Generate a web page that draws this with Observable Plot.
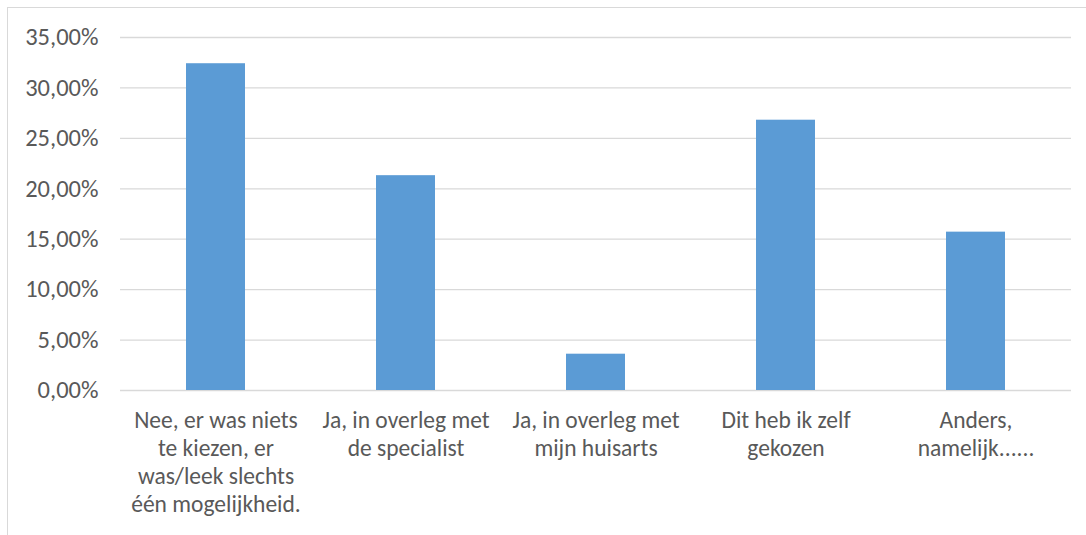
<!DOCTYPE html>
<html>
<head>
<meta charset="utf-8">
<script src="https://cdn.jsdelivr.net/npm/d3@7"></script>
<script src="https://cdn.jsdelivr.net/npm/@observablehq/plot@0.6"></script>
<style>
  html, body { margin: 0; padding: 0; background: #fff; }
  #wrap { position: relative; width: 1086px; height: 535px; overflow: hidden; }
  #frame { position: absolute; left: 7px; top: 7px; right: -10px; bottom: -10px;
           border-top: 1.5px solid #d9d9d9; border-left: 1.5px solid #d9d9d9; }
  #chart { position: absolute; left: 0; top: 0; }
</style>
</head>
<body>
<div id="wrap"><div id="frame"></div><div id="chart"></div></div>
<script>
// Answer options and their share of respondents (percent)
const categories = [
  "Nee, er was niets te kiezen, er was/leek slechts één mogelijkheid.",
  "Ja, in overleg met de specialist",
  "Ja, in overleg met mijn huisarts",
  "Dit heb ik zelf gekozen",
  "Anders, namelijk......"
];
const shares = [32.4, 21.3, 3.6, 26.8, 15.7];

// Wrapped axis labels, one entry per category
const tickLines = [
  "Nee, er was niets\nte kiezen, er\nwas/leek slechts\néén mogelijkheid.",
  "Ja, in overleg met\nde specialist",
  "Ja, in overleg met\nmijn huisarts",
  "Dit heb ik zelf\ngekozen",
  "Anders,\nnamelijk......"
];
const yTicks = [0, 5, 10, 15, 20, 25, 30, 35];

const data = categories.map((c, i) => ({category: c, share: shares[i]}));
const labelOf = new Map(categories.map((c, i) => [c, tickLines[i]]));
const pct = d => d.toFixed(2).replace(".", ",") + "%";

const chart = Plot.plot({
  width: 1086,
  height: 535,
  marginLeft: 120,
  marginRight: 15,
  marginTop: 37,
  marginBottom: 145,
  style: {fontFamily: "Carlito, Calibri, Lato, sans-serif", fontSize: "23px", color: "#595959", background: "transparent"},
  x: {domain: categories, paddingInner: 0.688, paddingOuter: 0.344},
  y: {domain: [0, 35]},
  marks: [
    Plot.gridY(yTicks, {stroke: "#d9d9d9", strokeOpacity: 1, strokeWidth: 1.3}),
    Plot.barY(data, {x: "category", y: "share", fill: "#5b9bd5"}),
    Plot.axisY(yTicks, {tickSize: 0, tickPadding: 22, tickFormat: pct, fill: "#595959", fontSize: 24.5, label: null}),
    Plot.axisX({tickSize: 0, tickPadding: 17, tickFormat: d => labelOf.get(d), fill: "#595959", fontSize: 23.5, lineHeight: 1.2, label: null})
  ]
});
document.getElementById("chart").appendChild(chart);
</script>
</body>
</html>
